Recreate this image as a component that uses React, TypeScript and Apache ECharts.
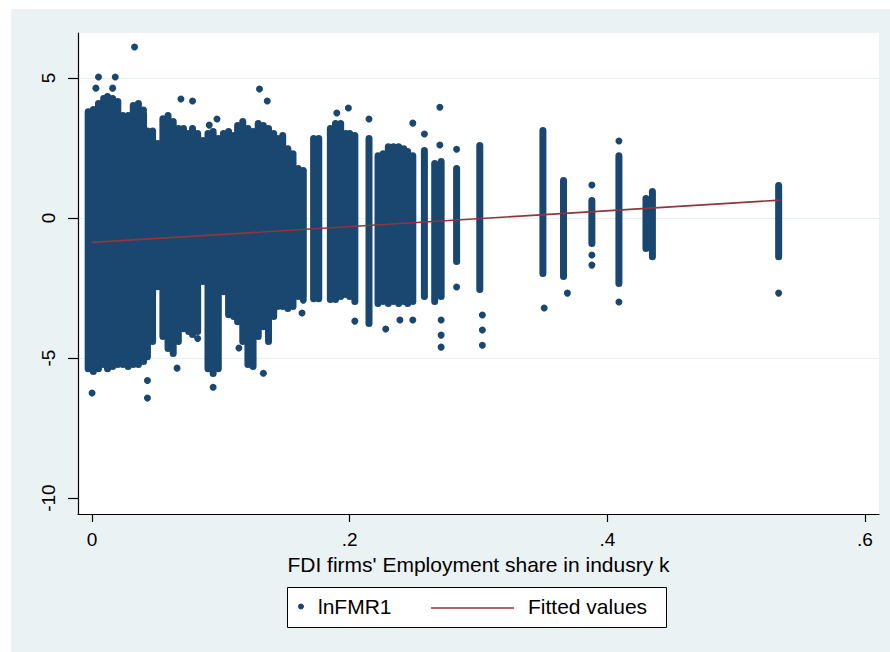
import React, { useEffect, useRef } from "react";
import * as echarts from "echarts";

const NAVY = "#1a476f";
const MAROON = "#90353b";
const OUTER_BG = "#eaf2f3";
const GRID_COLOR = "#e6eef0";
const FONT = "'Liberation Sans', Arial, Helvetica, sans-serif";

const SCATTER_NAME = "lnFMR1";
const FIT_NAME = "Fitted values";
const X_TITLE = "FDI firms' Employment share in indusry k";

const xTicks = [0, 0.2, 0.4, 0.6];
const yTicks = [-10, -5, 0, 5];

// dense continuous mass (column x, upper value, lower value)
const denseX = [
  -0.003, 0.001, 0.005, 0.009, 0.012, 0.016, 0.02, 0.024, 0.028, 0.032, 0.036, 0.04, 0.043, 0.047,
  0.051, 0.055, 0.059, 0.063, 0.067, 0.071, 0.075, 0.078, 0.082, 0.086, 0.09, 0.094, 0.098, 0.102,
  0.106, 0.11, 0.113, 0.117, 0.121, 0.125, 0.129, 0.133, 0.137, 0.141, 0.144, 0.148, 0.152, 0.156,
  0.16, 0.164,
];
const denseHigh = [
  3.8, 3.88, 4.09, 4.27, 4.34, 4.27, 4.16, 3.66, 3.66, 4.02, 4.09, 3.73, 3.11, 3.11,
  2.66, 3.55, 3.66, 3.45, 3.2, 3.2, 3.02, 3.2, 3.02, 2.77, 3.02, 3.09, 2.84, 3.02,
  3.09, 2.95, 3.31, 3.45, 3.2, 3.09, 3.38, 3.31, 3.2, 3.02, 2.84, 2.95, 2.48, 2.3,
  1.77, 1.7,
];
const denseLow = [
  -5.38, -5.48, -5.38, -5.23, -5.38, -5.3, -5.23, -5.23, -5.3, -5.23, -5.23, -5.12, -4.95, -4.41,
  -2.45, -4.23, -4.66, -4.84, -4.41, -3.95, -4.05, -4.16, -4.05, -2.27, -5.38, -5.55, -5.38, -2.63,
  -3.45, -3.52, -3.7, -4.41, -5.23, -5.3, -4.23, -3.88, -4.41, -3.52, -3.16, -3.16, -3.23, -3.16,
  -2.8, -2.8,
];

// separate vertical strips further right
const stripX = [
  0.172, 0.176, 0.185, 0.189, 0.193, 0.197, 0.2, 0.204, 0.215, 0.222, 0.226, 0.23, 0.234, 0.238,
  0.242, 0.245, 0.249, 0.258, 0.266, 0.271, 0.283, 0.301, 0.35, 0.366, 0.388, 0.409, 0.43, 0.435,
  0.533,
];
const stripHigh = [
  2.84, 2.84, 3.2, 3.38, 3.38, 3.02, 3.02, 2.95, 2.84, 2.23, 2.3, 2.55, 2.55, 2.55,
  2.48, 2.38, 2.23, 2.41, 1.95, 2.02, 1.77, 2.59, 3.13, 1.34, 0.63, 2.23, 0.7, 0.95,
  1.16,
];
const stripLow = [
  -2.88, -2.88, -2.91, -2.91, -2.8, -2.73, -2.8, -2.98, -3.77, -3.05, -2.98, -3.05, -2.98, -3.05,
  -2.98, -3.05, -2.98, -2.8, -2.98, -2.8, -1.55, -2.55, -1.98, -2.09, -0.91, -2.34, -1.09, -1.38,
  -1.38,
];

// isolated observations
const outlierX = [
  0.0, 0.005, 0.018, 0.033, 0.016, 0.003, 0.069, 0.078, 0.04, 0.091, 0.097, 0.13, 0.136, 0.066,
  0.094, 0.133, 0.043, 0.043, 0.114, 0.082, 0.19, 0.199, 0.215, 0.249, 0.258, 0.27, 0.27, 0.283,
  0.283, 0.163, 0.164, 0.204, 0.228, 0.239, 0.249, 0.271, 0.271, 0.271, 0.303, 0.303, 0.303, 0.351,
  0.369, 0.388, 0.388, 0.388, 0.409, 0.409, 0.533,
];
const outlierY = [
  -6.25, 5.04, 5.04, 6.11, 4.64, 4.64, 4.25, 4.18, 3.86, 3.32, 3.54, 4.61, 4.18, -5.36,
  -6.04, -5.54, -6.43, -5.8, -4.64, -4.3, 3.75, 3.93, 3.54, 3.39, 3.0, 3.96, 2.61, 2.46,
  -2.46, -3.39, -2.93, -3.68, -3.96, -3.64, -3.64, -3.64, -4.18, -4.61, -3.46, -4.0, -4.54, -3.21,
  -2.68, -1.32, -1.68, 1.18, 2.75, -3.0, -2.68,
];

// fitted regression line end points
const fitX = [0.0, 0.534];
const fitY = [-0.87, 0.64];

export default function App() {
  const ref = useRef<HTMLDivElement>(null);

  useEffect(() => {
    document.body.style.margin = "0";
    const chart = echarts.init(ref.current as HTMLDivElement, null, { renderer: "svg" });

    const columns = [
      ...denseX.map((x, i) => [x, denseHigh[i], denseLow[i]]),
      ...stripX.map((x, i) => [x, stripHigh[i], stripLow[i]]),
    ];
    const outliers = outlierX.map((x, i) => [x, outlierY[i]]);
    const fit = fitX.map((x, i) => [x, fitY[i]]);

    const fmtX = (v: number) => {
      if (Math.abs(v) < 1e-9) return "0";
      return String(Math.round(v * 10) / 10).replace(/^0/, "");
    };

    chart.setOption({
      animation: false,
      backgroundColor: OUTER_BG,
      textStyle: { fontFamily: FONT },
      graphic: [
        { type: "rect", silent: true, z: 0, shape: { x: 0, y: 0, width: 11, height: 652 }, style: { fill: "#ffffff" } },
        { type: "rect", silent: true, z: 0, shape: { x: 0, y: 0, width: 890, height: 9 }, style: { fill: "#ffffff" } },
        {
          type: "rect",
          silent: true,
          z: 1,
          shape: { x: 287.5, y: 587.5, width: 379, height: 40 },
          style: { fill: "#ffffff", stroke: "#000000", lineWidth: 1 },
        },
        {
          type: "line",
          silent: true,
          z: 2,
          shape: { x1: 431, y1: 608, x2: 514, y2: 608 },
          style: { stroke: MAROON, lineWidth: 1.6 },
        },
      ],
      grid: {
        left: 78,
        right: 11,
        top: 33,
        bottom: 138,
        show: true,
        backgroundColor: "#ffffff",
        borderWidth: 0,
      },
      legend: [
        {
          data: [SCATTER_NAME],
          left: 298,
          top: 596,
          padding: 0,
          itemWidth: 6,
          itemHeight: 6,
          icon: "circle",
          z: 10,
          selectedMode: false,
          itemStyle: { opacity: 1 },
          textStyle: { fontSize: 21, color: "#000", fontFamily: FONT, padding: [0, 0, 0, 9] },
        },
        {
          data: [{ name: FIT_NAME, icon: "none" }],
          left: 431,
          top: 596,
          padding: 0,
          itemWidth: 83,
          itemHeight: 10,
          z: 10,
          selectedMode: false,
          textStyle: { fontSize: 21, color: "#000", fontFamily: FONT, padding: [0, 0, 0, 9] },
        },
      ],
      xAxis: {
        type: "value",
        min: -0.0109,
        max: 0.6109,
        name: X_TITLE,
        nameLocation: "middle",
        nameGap: 35,
        nameTextStyle: { fontSize: 21, color: "#000", fontFamily: FONT },
        axisLine: { show: true, onZero: false, lineStyle: { color: "#000", width: 1.2 } },
        axisTick: { show: true, length: 8, customValues: xTicks, lineStyle: { color: "#000", width: 1.2 } },
        axisLabel: { customValues: xTicks, formatter: fmtX, margin: 16, fontSize: 19, color: "#000", fontFamily: FONT },
        splitLine: { show: false },
      },
      yAxis: {
        type: "value",
        min: -10.57,
        max: 6.61,
        axisLine: { show: true, onZero: false, lineStyle: { color: "#000", width: 1.2 } },
        axisTick: { show: true, length: 10, customValues: yTicks, lineStyle: { color: "#000", width: 1.2 } },
        axisLabel: { customValues: yTicks, rotate: 90, margin: 20, fontSize: 19, color: "#000", fontFamily: FONT },
        splitLine: {
          show: true,
          lineStyle: { color: ["rgba(0,0,0,0)", GRID_COLOR, GRID_COLOR, GRID_COLOR], width: 1.2 },
        },
      },
      series: [
        {
          name: SCATTER_NAME,
          type: "scatter",
          data: outliers,
          symbol: "circle",
          symbolSize: 7,
          itemStyle: { color: NAVY, opacity: 1 },
          z: 3,
        },
        {
          name: SCATTER_NAME,
          type: "custom",
          data: columns,
          encode: { x: 0, y: [1, 2] },
          z: 2,
          renderItem: (params: any, api: any) => {
            const x = api.value(0);
            const hi = api.value(1);
            const lo = api.value(2);
            const a = api.coord([x, hi]);
            const b = api.coord([x, lo]);
            const r = 3.5;
            return {
              type: "rect",
              shape: { x: a[0] - r, y: a[1] - r, width: 2 * r, height: b[1] - a[1] + 2 * r, r },
              style: { fill: NAVY },
            };
          },
        },
        {
          name: FIT_NAME,
          type: "line",
          data: fit,
          symbol: "none",
          showSymbol: false,
          lineStyle: { color: MAROON, width: 1.6 },
          itemStyle: { color: MAROON },
          z: 5,
        },
      ],
    });

    return () => {
      chart.dispose();
    };
  }, []);

  return <div ref={ref} style={{ width: 890, height: 652 }} />;
}
